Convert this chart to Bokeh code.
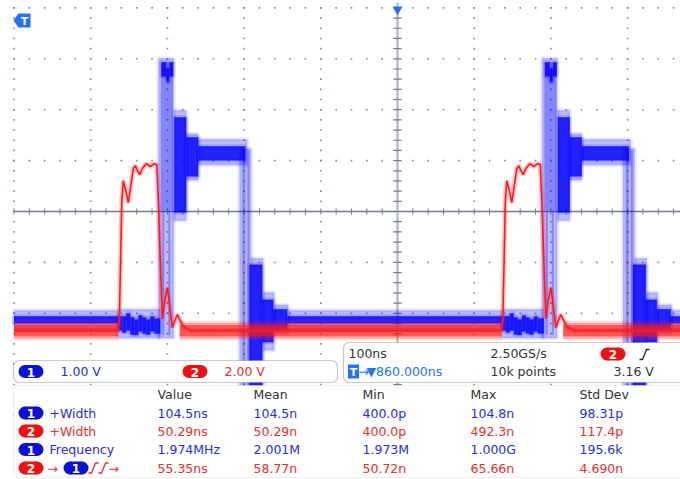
import numpy as np
from bokeh.plotting import figure
from bokeh.models import Range1d, BoxAnnotation
from bokeh.core.properties import value
from bokeh.embed import file_html
from bokeh.resources import INLINE

# ---------------- acquisition settings ----------------
time_per_div_ns = 100
ch1_volts_per_div = 1.0
ch2_volts_per_div = 2.0
ch1_position_div = -2.14
ch2_position_div = -2.34

# CH2 rising edges on screen (ns from display centre)
cycle_starts_ns = [-864.0, -364.0, 136.0]

# CH2 (red): representative trace, ns after the rising edge -> volts
ch2_t = [0, 1.3, 4.6, 6.5, 9.8, 13.0, 16.3, 19.6, 22.2, 24.8, 28.0, 31.3, 36.5,
         41.7, 46.9, 50.2, 52.2, 54.8, 57.4, 60.6, 63.9, 67.1, 70.4, 73.7, 76.9,
         80.8, 84.7, 93.9, 500.0]
ch2_v = [0.0, 0.39, 5.11, 5.89, 5.50, 5.03, 5.70, 6.37, 6.48, 6.29, 6.13, 6.37, 6.56,
         6.44, 6.56, 6.52, 5.11, 2.75, 0.47, 1.18, 1.69, 0.98, 0.12, 0.39, 0.63,
         0.39, 0.16, 0.0, 0.0]
# CH2 low-level noise band: start (ns after edge) and half-widths (V)
ch2_noise_start_ns = 80.0
ch2_noise_halfwidth_v = [0.39, 0.31, 0.22]

# CH1 (blue) persistence: rectangles (t0, t1 in ns after CH2 edge; hi, lo in V)
ch1_env_t0 = [0.0, 52.2, 72.4, 88.7, 104.3, 157.8, 173.4, 189.0, 203.4, 221.6]
ch1_env_t1 = [54.1, 72.4, 88.7, 104.3, 168.2, 173.4, 189.0, 203.4, 221.6, 500.0]
ch1_env_hi = [0.22, 5.15, 4.13, 3.67, 3.56, 3.38, 1.22, 0.55, 0.31, 0.20]
ch1_env_lo = [-0.35, -0.35, 1.96, 2.75, 3.05, -1.38, -1.38, -0.59, -0.26, -0.18]

ch1_mid_t0 = [55.4, 57.4, 65.2, 161.7, 168.2]
ch1_mid_t1 = [71.1, 60.0, 67.8, 165.6, 170.8]
ch1_mid_hi = [5.07, 2.16, 2.16, 3.34, 3.34]
ch1_mid_lo = [2.16, -0.29, -0.29, -1.28, -1.28]

ch1_core_t0 = [0.0, 5.2, 10.4, 15.6, 20.9, 26.1, 31.3, 36.5, 41.7, 46.9,
               56.1, 62.6, 66.5, 73.0, 88.7, 104.3, 170.8, 187.7, 202.1, 220.3]
ch1_core_t1 = [5.2, 10.4, 15.6, 20.9, 26.1, 31.3, 36.5, 41.7, 46.9, 54.8,
               62.6, 66.5, 71.7, 88.7, 104.3, 165.6, 187.7, 202.1, 220.3, 500.0]
ch1_core_hi = [0.08, 0.08, 0.14, 0.06, 0.02, 0.10, 0.06, 0.02, 0.08, 0.04,
               5.07, 4.95, 5.07, 3.99, 3.60, 3.42, 1.10, 0.41, 0.22, 0.08]
ch1_core_lo = [-0.20, -0.24, -0.20, -0.28, -0.29, -0.22, -0.26, -0.28, -0.22, -0.26,
               4.79, 4.68, 4.79, 2.12, 2.83, 3.14, -1.28, -0.43, -0.18, -0.06]

# ---------------- readout texts ----------------
ch1_scale_text = "1.00 V"
ch2_scale_text = "2.00 V"
timebase_text = "100ns"
sample_rate_text = "2.50GS/s"
trigger_delay_text = "\u25bc860.000ns"
record_length_text = "10k points"
trigger_level_text = "3.16 V"

meas_headers = ["Value", "Mean", "Min", "Max", "Std Dev"]
meas_channel = ["1", "2", "1", "2"]
meas_names = ["+Width", "+Width", "Frequency", ""]
meas_values = [
    ["104.5ns", "104.5n", "400.0p", "104.8n", "98.31p"],
    ["50.29ns", "50.29n", "400.0p", "492.3n", "117.4p"],
    ["1.974MHz", "2.001M", "1.973M", "1.000G", "195.6k"],
    ["55.35ns", "58.77n", "50.72n", "65.66n", "4.690n"],
]

# ---------------- layout ----------------
W, H = 680, 479
X0, Y0 = 397.0, 211.0          # graticule centre (px)
PX_X, PX_Y = 76.7, 50.9        # px per division

BLUE = "#0000ff"
RED = "#ff1a1a"
BLUE_TXT = "#2a2ae6"
RED_TXT = "#ee2c2c"
PILL_BLUE = "#0b12d6"
PILL_RED = "#ee1111"
UI_BLUE = "#2271ff"
DARK = "#333333"
FONT = value("DejaVu Sans")
FSIZE = value("12.5px")


def tx(px):
    return (px - X0) / PX_X * time_per_div_ns


def ty(py):
    return (Y0 - py) / PX_Y


T_LEFT = -5 * time_per_div_ns
T_RIGHT = 5 * time_per_div_ns

p = figure(width=W, height=H, x_range=Range1d(tx(0), tx(W)), y_range=Range1d(ty(H), ty(0)),
           min_border=0, toolbar_location=None, output_backend="svg",
           x_axis_location=None, y_axis_location=None, outline_line_color=None,
           background_fill_color="white", border_fill_color="white")
p.grid.visible = False
p.extra_y_ranges = {
    "ch1": Range1d((ty(H) - ch1_position_div) * ch1_volts_per_div,
                   (ty(0) - ch1_position_div) * ch1_volts_per_div),
    "ch2": Range1d((ty(H) - ch2_position_div) * ch2_volts_per_div,
                   (ty(0) - ch2_position_div) * ch2_volts_per_div),
}

# ---------------- graticule ----------------
dot_x, dot_y = [], []
minor_div = np.round(np.arange(-4.0, 4.001, 0.2), 3)
minor_t = np.arange(T_LEFT, T_RIGHT + 0.1, time_per_div_ns / 5)
for k in range(-5, 6):
    if k == 0:
        continue
    dot_x += [k * time_per_div_ns] * len(minor_div)
    dot_y += list(minor_div)
for j in range(-4, 5):
    if j == 0:
        continue
    dot_x += list(minor_t)
    dot_y += [float(j)] * len(minor_t)
p.scatter(dot_x, dot_y, marker="square", size=1.6, fill_color="#8088a6", line_color=None)

p.line([T_LEFT, T_RIGHT], [0, 0], line_color="#737c8f", line_width=1.6)
p.segment(x0=list(minor_t), y0=[-0.06] * len(minor_t), x1=list(minor_t), y1=[0.06] * len(minor_t),
          line_color="#737c8f", line_width=1)
p.line([0, 0], [-4, 4.1], line_color="#b6bece", line_width=2.5)
p.segment(x0=[-5.5] * len(minor_div), y0=list(minor_div), x1=[5.5] * len(minor_div), y1=list(minor_div),
          line_color="#6f7894", line_width=1.2)


# ---------------- waveforms ----------------
def place_rects(t0, t1, hi, lo):
    L, R, T, B = [], [], [], []
    for c in cycle_starts_ns:
        for a, b, h, l in zip(t0, t1, hi, lo):
            a2, b2 = max(a + c, T_LEFT), b + c
            if b2 > a2:
                L.append(a2); R.append(b2); T.append(h); B.append(l)
    return dict(left=L, right=R, top=T, bottom=B)


def place_trace(t, v):
    T = np.concatenate([np.asarray(t, float) + c for c in cycle_starts_ns])
    V = np.concatenate([np.asarray(v, float)] * len(cycle_starts_ns))
    keep = T >= T_LEFT
    return np.r_[T_LEFT, T[keep]], np.r_[np.interp(T_LEFT, T, V), V[keep]]


# CH1 persistence layers: faint envelope, mid-intensity strips, bright core (soft edges)
p.quad(**place_rects(ch1_env_t0, ch1_env_t1, ch1_env_hi, ch1_env_lo), y_range_name="ch1",
       fill_color=BLUE, fill_alpha=0.26, line_color=BLUE, line_alpha=0.08, line_width=4)
p.quad(**place_rects(ch1_mid_t0, ch1_mid_t1, ch1_mid_hi, ch1_mid_lo), y_range_name="ch1",
       fill_color=BLUE, fill_alpha=0.3, line_color=None)
p.quad(**place_rects(ch1_core_t0, ch1_core_t1, ch1_core_hi, ch1_core_lo), y_range_name="ch1",
       fill_color=BLUE, fill_alpha=0.82, line_color=BLUE, line_alpha=0.16, line_width=4)

# CH2 noise band and trace
for hw, a in zip(ch2_noise_halfwidth_v, [0.15, 0.3, 0.55]):
    band = place_rects([ch2_noise_start_ns], [ch2_t[-1]], [hw], [-hw])
    p.quad(**band, y_range_name="ch2", fill_color=RED, fill_alpha=a, line_color=None)

rt, rv = place_trace(ch2_t, ch2_v)
p.line(rt, rv, y_range_name="ch2", line_color=RED, line_width=5, line_alpha=0.25)
p.line(rt, rv, y_range_name="ch2", line_color=RED, line_width=1.6)

# trigger position marker and trigger icon
p.scatter([0], [ty(9)], marker="inverted_triangle", size=10, fill_color=UI_BLUE, line_color=None)
p.patch([tx(13), tx(18), tx(30), tx(30), tx(18)], [ty(20), ty(13), ty(13), ty(27), ty(27)],
        fill_color=UI_BLUE, line_color=None)
p.text([tx(24)], [ty(20.5)], ["T"], text_color="white", text_font=FONT, text_font_size=value("11px"),
       text_font_style="bold", text_align="center", text_baseline="middle")

# ---------------- readout panels ----------------
for l, r, t, b, lc in [(13, 337, 360, 382, "#505050"), (343, 720, 342, 382, "#505050"),
                       (13, 720, 385, 477, "#d2d2d2")]:
    p.add_layout(BoxAnnotation(left=tx(l), right=tx(r), top=ty(t), bottom=ty(b),
                               fill_color="white", fill_alpha=1.0, line_color=lc,
                               line_width=1.2, border_radius=6))


def pill(cx, cy, color, label, w=25, h=13):
    p.rect([tx(cx)], [ty(cy)], width=w - h, height=h, width_units="screen", height_units="screen",
           fill_color=color, line_color=None, level="overlay")
    p.scatter([tx(cx - (w - h) / 2), tx(cx + (w - h) / 2)], [ty(cy)] * 2, marker="circle", size=h,
              fill_color=color, line_color=None, level="overlay")
    p.text([tx(cx)], [ty(cy + 0.5)], [label], text_color="white", text_font=FONT,
           text_font_size=value("12px"), text_font_style="bold", text_align="center",
           text_baseline="middle", level="overlay")


def texts(xs, ys, labels, colors):
    p.text([tx(x) for x in xs], [ty(y) for y in ys], labels, text_color=colors, text_font=FONT,
           text_font_size=FSIZE, text_align="left", text_baseline="middle", level="overlay")


def edge_icon(x, y, color):
    p.line([tx(x), tx(x + 3), tx(x + 7), tx(x + 10)], [ty(y + 5), ty(y + 5), ty(y - 5), ty(y - 5)],
           line_color=color, line_width=1.3, level="overlay")


# channel scales
pill(30.5, 371, PILL_BLUE, "1")
pill(194.5, 371, PILL_RED, "2")
texts([60, 224], [371, 371], [ch1_scale_text, ch2_scale_text], [BLUE_TXT, RED_TXT])

# timebase / trigger
texts([348, 490, 490, 613], [353, 353, 371, 371],
      [timebase_text, sample_rate_text, record_length_text, trigger_level_text], [DARK] * 4)
pill(612.5, 353.5, PILL_RED, "2")
edge_icon(639, 354, "#222222")
p.rect([tx(353)], [ty(371)], width=11, height=14, width_units="screen", height_units="screen",
       fill_color=UI_BLUE, line_color=None, level="overlay")
p.text([tx(353)], [ty(371.5)], ["T"], text_color="white", text_font=FONT, text_font_size=value("11px"),
       text_font_style="bold", text_align="center", text_baseline="middle", level="overlay")
texts([358, 366], [371, 371], ["\u2192", trigger_delay_text], [UI_BLUE, UI_BLUE])

# measurement table
col_x = [157, 253, 362, 470, 579]
row_y = [412.5, 430.5, 449, 467.5]
texts(col_x, [394] * 5, meas_headers, [DARK] * 5)
for i, (ch, name, vals) in enumerate(zip(meas_channel, meas_names, meas_values)):
    y = row_y[i]
    pc, tc = (PILL_BLUE, BLUE_TXT) if ch == "1" else (PILL_RED, RED_TXT)
    pill(30.5, y, pc, ch)
    if name:
        texts([49], [y], [name], [tc])
    texts(col_x, [y] * 5, vals, [tc] * 5)
# delay measurement: CH2 -> CH1, rising edges
texts([47], [row_y[3]], ["\u2192"], [RED_TXT])
pill(75.5, row_y[3], PILL_BLUE, "1")
edge_icon(88, row_y[3], RED_TXT)
edge_icon(98, row_y[3], RED_TXT)
texts([108], [row_y[3]], ["\u2192"], [RED_TXT])

open("out.html", "w").write(file_html(p, INLINE))
